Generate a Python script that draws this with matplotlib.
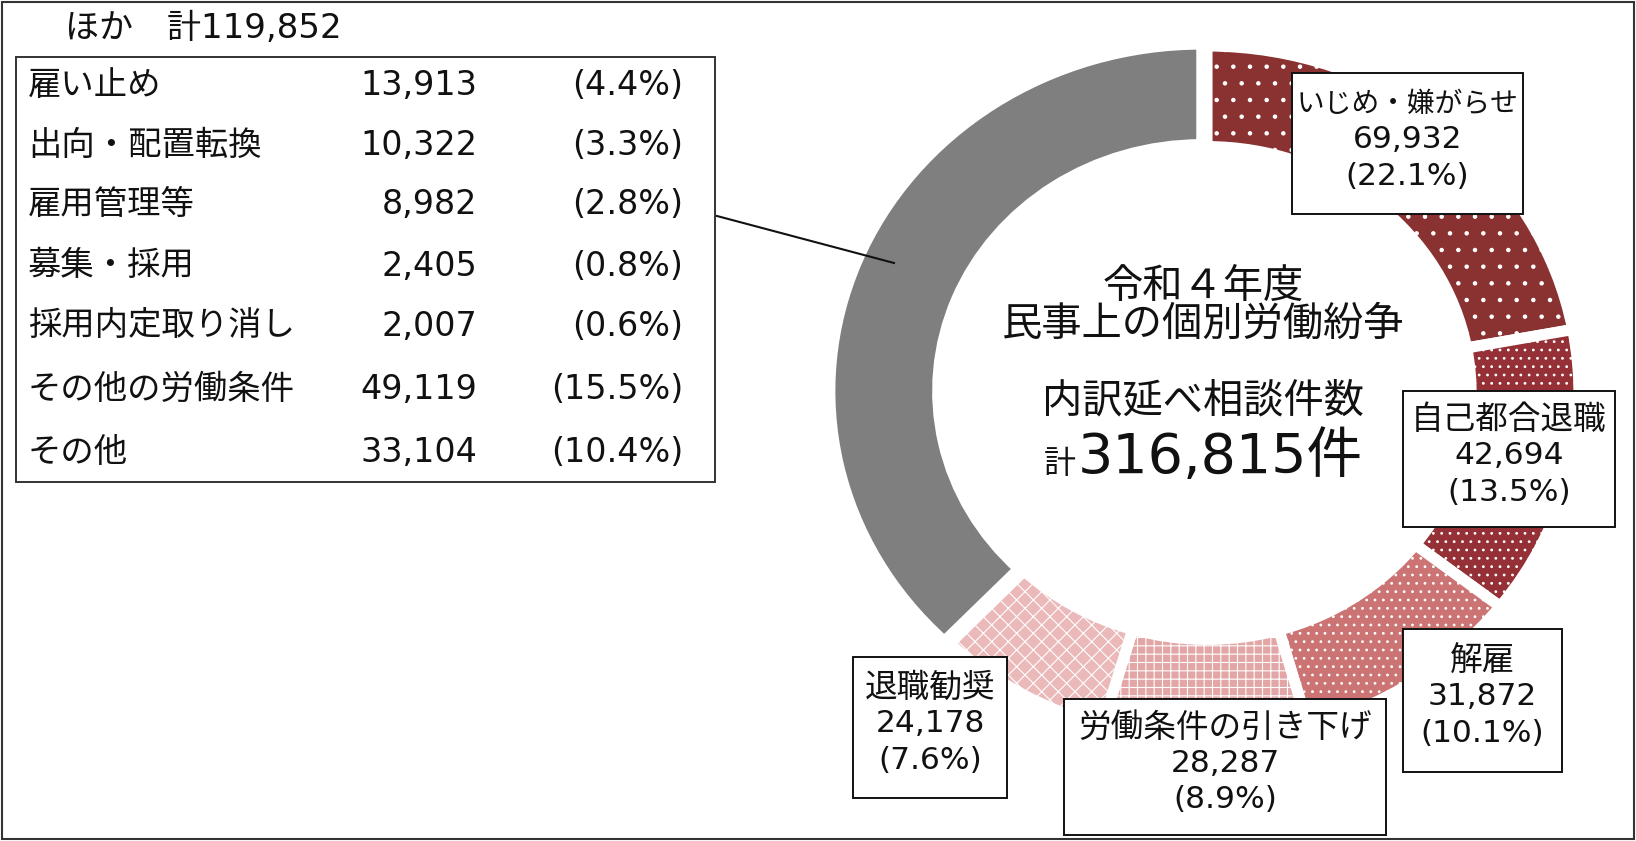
import matplotlib
matplotlib.use("Agg")
import matplotlib.pyplot as plt
from matplotlib.patches import Rectangle

plt.rcParams["font.family"] = ["DejaVu Sans", "Noto Sans CJK JP"]
plt.rcParams["hatch.linewidth"] = 0.8

# ==========================================================
# DATA
# ==========================================================

main_labels = ["いじめ・嫌がらせ", "自己都合退職", "解雇", "労働条件の引き下げ", "退職勧奨", "ほか"]
main_values = [69932, 42694, 31872, 28287, 24178, 119852]
main_pcts = [22.1, 13.5, 10.1, 8.9, 7.6, 37.8]

other_labels = ["雇い止め", "出向・配置転換", "雇用管理等", "募集・採用",
                "採用内定取り消し", "その他の労働条件", "その他"]
other_values = [13913, 10322, 8982, 2405, 2007, 49119, 33104]
other_pcts = [4.4, 3.3, 2.8, 0.8, 0.6, 15.5, 10.4]

title_year = "令和４年度"
title_main = "民事上の個別労働紛争"
title_sub = "内訳延べ相談件数"

# ==========================================================
# STYLE
# ==========================================================

W, H = 1636, 841
colors = ["#8a3131", "#943036", "#cc7474", "#e3a6a6", "#ebb9b9", "#7f7f7f"]
hatches = [".", "..", "..", "++", "xx", None]
explode = [0, 0, 0, 0, 0, 0.015]

# label boxes (x0, y0, x1, y1) in pixels, top-left origin
label_boxes = [
    (1292, 73, 1523, 214),
    (1403, 391, 1615, 527),
    (1403, 629, 1562, 772),
    (1064, 699, 1386, 835),
    (853, 657, 1007, 798),
]

fig = plt.figure(figsize=(W / 100, H / 100), dpi=100)

# ==========================================================
# DONUT
# ==========================================================

cx, cy, rx, ry = 1207, 393, 372, 347
ax_d = fig.add_axes([(cx - rx) / W, (H - cy - ry) / H, 2 * rx / W, 2 * ry / H])
wedges, _ = ax_d.pie(
    main_values,
    radius=1.0,
    startangle=90,
    counterclock=False,
    colors=colors,
    explode=explode,
    wedgeprops=dict(width=0.29, edgecolor="white", linewidth=8),
)
for w, h in zip(wedges, hatches):
    if h:
        w.set_hatch(h)
ax_d.set_aspect("auto")
ax_d.set_xlim(-1, 1)
ax_d.set_ylim(-1, 1)
ax_d.axis("off")

# ==========================================================
# OVERLAY (texts, boxes)
# ==========================================================

ax = fig.add_axes([0, 0, 1, 1])
ax.set_xlim(0, W)
ax.set_ylim(H, 0)
ax.axis("off")
ax.patch.set_visible(False)

txt = "#111111"

# label boxes around the ring
for (x0, y0, x1, y1), lab, v, p in zip(label_boxes, main_labels, main_values, main_pcts):
    ax.add_patch(Rectangle((x0, y0), x1 - x0, y1 - y0, facecolor="white",
                           edgecolor="#111111", linewidth=1.4, zorder=3))
    xm, ym = (x0 + x1) / 2, (y0 + y1) / 2
    fs = min(23.5, 0.96 * (x1 - x0) / (len(lab) * 1.389))
    ax.text(xm, ym - 40, lab, ha="center", va="center", fontsize=fs, color=txt, zorder=4)
    ax.text(xm, ym - 4, f"{v:,}", ha="center", va="center", fontsize=22.5, color=txt, zorder=4)
    ax.text(xm, ym + 33, f"({p}%)", ha="center", va="center", fontsize=22.5, color=txt, zorder=4)

# center texts
total = sum(main_values)
ax.text(1203, 287, title_year, ha="center", va="center", fontsize=29, color=txt)
ax.text(1203, 325, title_main, ha="center", va="center", fontsize=29, color=txt)
ax.text(1203, 401, title_sub, ha="center", va="center", fontsize=29, color=txt)
ax.text(1076, 473, "計", ha="right", va="baseline", fontsize=23, color=txt)
ax.text(1078, 473, f"{total:,}件", ha="left", va="baseline", fontsize=40, color=txt)

# left breakdown table
other_total = sum(other_values)
ax.text(65, 28, f"ほか　計{other_total:,}", ha="left", va="center", fontsize=24.5, color=txt)
ax.add_patch(Rectangle((16, 57), 715 - 16, 482 - 57, facecolor="white",
                       edgecolor="#333333", linewidth=1.4, zorder=2))
row_y = [85, 145, 204, 266, 326, 389, 452]
for y, lab, v, p in zip(row_y, other_labels, other_values, other_pcts):
    ax.text(28, y, lab, ha="left", va="center", fontsize=24, color=txt, zorder=3)
    ax.text(477, y, f"{v:,}", ha="right", va="center", fontsize=24, color=txt, zorder=3)
    ax.text(683, y, f"({p}%)", ha="right", va="center", fontsize=24, color=txt, zorder=3)

# leader line from table to the grey segment
ax.plot([717, 894], [216, 263], color="#111111", linewidth=1.5, zorder=3)

# outer frame
ax.add_patch(Rectangle((2, 2), W - 4, H - 4, facecolor="none",
                       edgecolor="#333333", linewidth=1.5, zorder=5))

fig.savefig("out.png", dpi=100)
